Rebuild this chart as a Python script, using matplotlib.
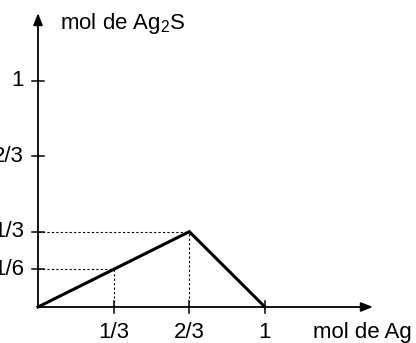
import numpy as np
import matplotlib.pyplot as plt

plt.rcParams['font.family'] = ['Liberation Sans', 'DejaVu Sans']
plt.rcParams['mathtext.fontset'] = 'custom'
plt.rcParams['mathtext.rm'] = 'Liberation Sans'

# Ag2S formed vs. Ag used
x_pts = [0, 2/3, 1]
y_pts = [0, 1/3, 0]

x_ticks = [1/3, 2/3, 1]
x_labels = ['1/3', '2/3', '1']
y_ticks = [1/6, 1/3, 2/3, 1]
y_labels = ['1/6', '1/3', '2/3', '1']

# guide points marked with dotted lines
guide_x = [1/3, 2/3]
guide_y = [1/6, 1/3]

fig = plt.figure(figsize=(4.16, 3.43), dpi=100)
ax = fig.add_axes([0, 0, 1, 1])
ax.set_xlim(-38/227, (416 - 38)/227)
ax.set_ylim(-36/226, 307/226)
ax.axis('off')

# axes with arrows
arrow = dict(arrowstyle='-|>,head_length=0.5,head_width=0.2', lw=1.3,
             color='black', mutation_scale=14, shrinkA=0, shrinkB=0)
ax.annotate('', xy=(1.475, 0), xytext=(0, 0), arrowprops=arrow)
ax.annotate('', xy=(0, 1.30), xytext=(0, 0), arrowprops=arrow)

# ticks crossing the axes
tx = 6/227
ty = 6/226
for t, lab in zip(x_ticks, x_labels):
    ax.plot([t, t], [-ty, ty], color='black', lw=1.1)
    ax.text(t, -0.112, lab, ha='center', va='center', fontsize=16)
for t, lab in zip(y_ticks, y_labels):
    ax.plot([-tx, tx], [t, t], color='black', lw=1.1)
    ax.text(-0.062, t, lab, ha='right', va='center', fontsize=16)

# dotted guides
for gx, gy in zip(guide_x, guide_y):
    ax.plot([0, gx], [gy, gy], color='black', lw=0.8, ls=(0, (2, 2)))
    ax.plot([gx, gx], [0, gy], color='black', lw=0.8, ls=(0, (2, 2)))

ax.plot(x_pts, y_pts, color='black', lw=2.2, solid_joinstyle='miter')

ax.text(0.095, 1.255, r'mol de Ag$_\mathregular{2}$S', ha='left', va='center', fontsize=16)
ax.text(1.21, -0.112, 'mol de Ag', ha='left', va='center', fontsize=16)

fig.savefig('out.png', dpi=100)
